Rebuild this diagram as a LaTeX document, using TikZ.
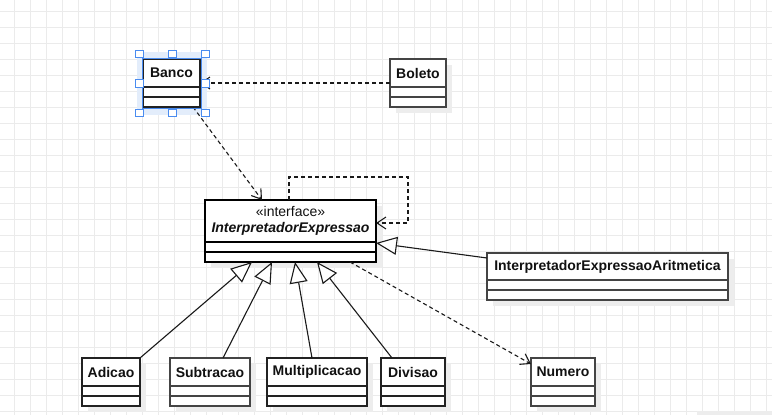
\documentclass[tikz,border=0pt]{standalone}
\usepackage{fontspec}
\setmainfont{Liberation Sans}
\usetikzlibrary{arrows.meta,calc}
\definecolor{gridc}{HTML}{EBEBEB}
\definecolor{shadowc}{HTML}{EDEDED}
\definecolor{textc}{HTML}{111111}
\definecolor{darkb}{HTML}{222222}
\definecolor{grayb}{HTML}{444444}
\definecolor{linec}{HTML}{1A1A1A}
\definecolor{haloc}{HTML}{E3EDFB}
\definecolor{selc}{HTML}{4A8CF0}
\tikzset{
  gridline/.style={draw=gridc, line width=0.9pt},
  box/.style={rectangle, draw=#1, line width=1.2pt, fill=white, inner sep=0pt, outer sep=0pt},
  lbl/.style={font=\fontsize{14}{16}\selectfont\bfseries, text=textc, inner sep=0pt, align=center},
  dep/.style={draw=linec, line width=1.1pt, dash pattern=on 4pt off 3pt,
    -{Straight Barb[length=9pt,width=12pt,line width=1.1pt]}},
  gen/.style={draw=linec, line width=1.1pt,
    -{Triangle[open,length=21pt,width=18pt,line width=1.1pt,fill=white]}},
  handle/.style={rectangle, draw=selc, fill=white, line width=0.9pt, minimum size=7.5pt, inner sep=0pt}
}
% name, left, top, right, header height, text, border colour
\newcommand\umlcls[7]{%
  \pgfmathsetmacro\cw{#4-#2}%
  \pgfmathsetmacro\ch{#5+20}%
  \pgfmathsetmacro\cx{(#2+#4)/2}%
  \pgfmathsetmacro\ty{#3+#5/2}%
  \node[box=#7, anchor=north west, minimum width=\cw pt, minimum height=\ch pt] (#1) at (#2,#3) {};
  \node[lbl] (#1-t) at (\cx,\ty) {#6};
  \draw[draw=#7, line width=1.2pt] ({#2},{#3+#5}) -- ({#4},{#3+#5});
  \draw[draw=#7, line width=1.2pt] ({#2},{#3+#5+10}) -- ({#4},{#3+#5+10});
}
\newcommand\umlshadow[4]{%
  \fill[shadowc] ({#1+6},{#2+6}) rectangle ({#3+6},{#4+6});
}
\begin{document}
\begin{tikzpicture}[x=1pt,y=-1pt]
\useasboundingbox (0,0) rectangle (772,415);
\fill[white] (0,0) rectangle (772,415);
\foreach \x in {14,30,...,770} \draw[gridline] (\x,0) -- (\x,415);
\foreach \y in {11,27,...,411} \draw[gridline] (0,\y) -- (772,\y);
\fill[shadowc] (697,411) rectangle (772,415);

% shadows
\umlshadow{390}{59}{446}{107}
\umlshadow{205}{200}{376}{262}
\umlshadow{487}{253}{728}{300}
\umlshadow{82}{358}{140}{406}
\umlshadow{170}{358}{250}{406}
\umlshadow{267}{358}{367}{406}
\umlshadow{381}{358}{445}{406}
\umlshadow{531}{358}{595}{406}
% selection halo of Banco
\fill[haloc] (137,52) rectangle (207,115);

% classes
\umlcls{banco}{143}{59}{200}{28}{Banco}{darkb}
\umlcls{boleto}{390}{59}{446}{28}{Boleto}{grayb}
\umlcls{iface}{205}{200}{376}{42}{{\mdseries «interface»}\\{\itshape InterpretadorExpressao}}{black}
\umlcls{arit}{487}{253}{728}{27}{InterpretadorExpressaoAritmetica}{grayb}
\umlcls{adicao}{82}{358}{140}{28}{Adicao}{darkb}
\umlcls{subtracao}{170}{358}{250}{28}{Subtracao}{grayb}
\umlcls{multiplicacao}{267}{358}{367}{28}{Multiplicacao}{darkb}
\umlcls{divisao}{381}{358}{445}{28}{Divisao}{darkb}
\umlcls{numero}{531}{358}{595}{28}{Numero}{grayb}

% connectors
\draw[dep] (boleto.west) -- (banco.east);
\draw[dep] ([xshift=50pt]banco.south west) -- ([xshift=57pt]iface.north west);
\coordinate (loopA) at (408,177);
\coordinate (loopB) at (408,223);
\draw[dep] ([xshift=84pt]iface.north west) |- (loopA) -- (loopB) -- ([yshift=8pt]iface.east);
\draw[dep] ([xshift=145pt]iface.south west) -- ([yshift=-6pt]numero.north west);
\draw[gen] ([yshift=-5pt]arit.north west) -- ([yshift=-12pt]iface.east);
\draw[gen] (adicao.north east) -- ([xshift=47pt]iface.south west);
\draw[gen] ([xshift=53pt]subtracao.north west) -- ([xshift=67pt]iface.south west);
\draw[gen] ([xshift=45pt]multiplicacao.north west) -- ([xshift=90pt]iface.south west);
\draw[gen] ([xshift=11pt]divisao.north west) -- ([xshift=112pt]iface.south west);

% selection outline and handles
\draw[selc, line width=0.8pt] (141.9,57.9) rectangle (201.1,108.1);
\node[handle] (h1) at (139.5,54) {};
\node[handle] (h2) at (172.5,54) {};
\node[handle] (h3) at (205.5,54) {};
\node[handle] (h4) at (139.5,83.5) {};
\node[handle] (h5) at (205.5,83.5) {};
\node[handle] (h6) at (139.5,113) {};
\node[handle] (h7) at (172.5,113) {};
\node[handle] (h8) at (205.5,113) {};
\end{tikzpicture}
\end{document}
